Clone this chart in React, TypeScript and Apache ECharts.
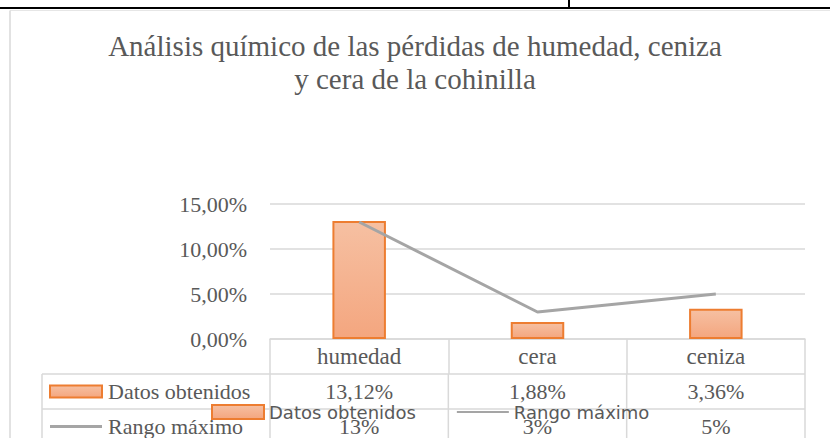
import React, { useEffect, useRef } from "react";
import * as echarts from "echarts";

const titleText = "Análisis químico de las pérdidas de humedad, ceniza\ny cera de la cohinilla";
const categories = ["humedad", "cera", "ceniza"];
const seriesNames = ["Datos obtenidos", "Rango máximo"];
const datosObtenidos = [0.1312, 0.0188, 0.0336];
const rangoMaximo = [0.13, 0.03, 0.05];
const tableDecimals = [2, 0];
const yMin = 0;
const yMax = 0.15;
const yInterval = 0.05;

const SERIF = "Liberation Serif";
const SANS = "DejaVu Sans";
const TXT = "#595959";
const LINE_GRAY = "#D9D9D9";

const W = 830;
const H = 438;
const GRID_L = 270;
const GRID_R = 805;
const GRID_T = 204;
const AXIS_Y = 339;
const ROW_H = 35;
const TABLE_L = 42;

const pct = (v: number, d: number) => (v * 100).toFixed(d).replace(".", ",") + "%";

const barFill = () =>
  new echarts.graphic.LinearGradient(0, 0, 0, 1, [
    { offset: 0, color: "#F6C0A2" },
    { offset: 1, color: "#F4A67F" },
  ]);

export default function App() {
  const ref = useRef<HTMLDivElement>(null);
  useEffect(() => {
    if (!ref.current) return;
    const chart = echarts.init(ref.current, null, { renderer: "svg" });
    const bandW = (GRID_R - GRID_L) / categories.length;
    const rows = [datosObtenidos, rangoMaximo];
    const graphics: any[] = [];
    graphics.push({ type: "line", shape: { x1: 0, y1: 8, x2: W, y2: 8 }, style: { stroke: "#000", lineWidth: 2 } });
    graphics.push({ type: "line", shape: { x1: 569, y1: 0, x2: 569, y2: 8 }, style: { stroke: "#000", lineWidth: 2 } });
    graphics.push({ type: "line", shape: { x1: 10, y1: 10.5, x2: W, y2: 10.5 }, style: { stroke: "#E6E6E6", lineWidth: 1 } });
    graphics.push({ type: "line", shape: { x1: 10, y1: 10.5, x2: 10, y2: H }, style: { stroke: LINE_GRAY, lineWidth: 1.5 } });
    for (let r = 0; r < rows.length; r++) {
      const y = AXIS_Y + ROW_H * (r + 1);
      graphics.push({ type: "line", shape: { x1: TABLE_L, y1: y, x2: GRID_R, y2: y }, style: { stroke: LINE_GRAY, lineWidth: 1.5 } });
    }
    const tableBottom = AXIS_Y + ROW_H * (rows.length + 1);
    graphics.push({ type: "line", shape: { x1: TABLE_L, y1: AXIS_Y + ROW_H, x2: TABLE_L, y2: tableBottom }, style: { stroke: LINE_GRAY, lineWidth: 1.5 } });
    for (let c = 0; c <= categories.length; c++) {
      const x = GRID_L + bandW * c;
      graphics.push({ type: "line", shape: { x1: x, y1: AXIS_Y + ROW_H, x2: x, y2: tableBottom }, style: { stroke: LINE_GRAY, lineWidth: 1.5 } });
    }
    rows.forEach((vals, r) => {
      const cy = AXIS_Y + ROW_H * (r + 1) + ROW_H / 2;
      if (r === 0) {
        graphics.push({ type: "rect", shape: { x: 50, y: cy - 6, width: 52, height: 12 }, style: { fill: barFill(), stroke: "#ED7D31", lineWidth: 2 } });
      } else {
        graphics.push({ type: "line", shape: { x1: 50, y1: cy, x2: 102, y2: cy }, style: { stroke: "#A5A5A5", lineWidth: 3 } });
      }
      graphics.push({
        type: "text", x: 108, y: cy,
        style: { text: seriesNames[r], fontFamily: SERIF, fontSize: 22, fill: TXT, textVerticalAlign: "middle", textAlign: "left" },
      });
      vals.forEach((v, c) => {
        graphics.push({
          type: "text", x: GRID_L + bandW * (c + 0.5), y: cy,
          style: { text: pct(v, tableDecimals[r]), fontFamily: SERIF, fontSize: 22, fill: TXT, textVerticalAlign: "middle", textAlign: "center" },
        });
      });
    });

    chart.setOption({
      animation: false,
      backgroundColor: "#fff",
      title: {
        text: titleText,
        left: "center",
        top: 24,
        textStyle: { fontFamily: SERIF, fontSize: 29, fontWeight: "normal", color: TXT, lineHeight: 33 },
      },
      legend: {
        left: 206,
        top: 398,
        itemWidth: 52,
        itemHeight: 14,
        itemGap: 40,
        textStyle: { fontFamily: SANS, fontSize: 18, color: TXT },
        data: [
          { name: seriesNames[0], icon: "rect" },
          { name: seriesNames[1], itemStyle: { opacity: 0 } },
        ],
      },
      grid: { left: GRID_L, right: W - GRID_R, top: GRID_T, bottom: H - AXIS_Y, containLabel: false },
      xAxis: {
        type: "category",
        data: categories,
        axisLine: { lineStyle: { color: LINE_GRAY, width: 1.5 } },
        axisTick: { show: true, length: ROW_H, alignWithLabel: false, lineStyle: { color: LINE_GRAY, width: 1.5 } },
        axisLabel: { fontFamily: SERIF, fontSize: 23, color: TXT, margin: 6 },
      },
      yAxis: {
        type: "value",
        min: yMin,
        max: yMax,
        interval: yInterval,
        axisLine: { show: false },
        axisTick: { show: false },
        splitLine: { lineStyle: { color: LINE_GRAY, width: 1.5 } },
        axisLabel: { fontFamily: SERIF, fontSize: 22, color: TXT, margin: 23, formatter: (v: number) => pct(v, 2) },
      },
      series: [
        {
          name: seriesNames[0],
          type: "bar",
          data: datosObtenidos,
          barWidth: "30%",
          itemStyle: { color: barFill(), borderColor: "#ED7D31", borderWidth: 2 },
        },
        {
          name: seriesNames[1],
          type: "line",
          data: rangoMaximo,
          symbol: "none",
          lineStyle: { color: "#A5A5A5", width: 3 },
          itemStyle: { color: "#A5A5A5" },
        },
      ],
      graphic: graphics,
    });
    return () => chart.dispose();
  }, []);
  return <div ref={ref} style={{ position: "fixed", left: 0, top: 0, width: W, height: H }} />;
}
